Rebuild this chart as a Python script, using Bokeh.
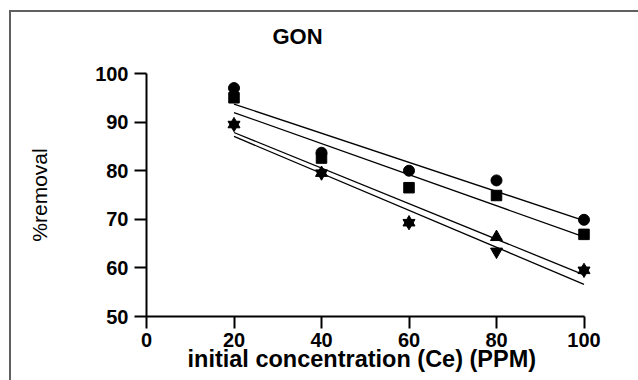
import numpy as np
from bokeh.plotting import figure
from bokeh.models import Title, Range1d
from bokeh.transform import dodge
from bokeh.embed import file_html
from bokeh.resources import INLINE

# ---- data ----
conc = [20, 40, 60, 80, 100]
circle_vals = [97.0, 83.7, 80.0, 78.0, 69.9]
square_vals = [95.0, 82.6, 76.5, 74.9, 66.9]
up_vals = [89.9, 79.9, 69.7, 66.7, 59.9]
down_vals = [89.1, 79.1, 68.9, 63.0, 59.1]
x_ticks = [0, 20, 40, 60, 80, 100]
y_ticks = [50, 60, 70, 80, 90, 100]
title_text = "GON"
x_label = "initial concentration (Ce) (PPM)"
y_label = "%removal"

FONT = "Liberation Sans"
W, H = 638, 380
TRI = 12  # triangle marker size (px)
# Prism-style triangles are centred on their bounding box, Bokeh's on the centroid
tri_shift = (TRI / 2) * np.sqrt(3) / 6 / (243 / 50)

p = figure(width=W, height=H, output_backend="svg", toolbar_location=None,
           x_range=Range1d(0, 104), y_range=Range1d(50, 100),
           min_border_left=146, min_border_right=37,
           min_border_top=73, min_border_bottom=64)
# thin grey page frame (top and left edges), drawn as CSS background
p.styles = {
    "background-image": "linear-gradient(#606060, #606060), linear-gradient(#606060, #606060)",
    "background-size": "100% 2px, 2px 100%",
    "background-position": "10px 10px, 9px 10px",
    "background-repeat": "no-repeat",
}

p.background_fill_color = "white"
p.border_fill_color = None
p.outline_line_color = None
p.xgrid.visible = False
p.ygrid.visible = False

for ax in (p.xaxis[0], p.yaxis[0]):
    ax.axis_line_width = 2
    ax.axis_line_color = "black"
    ax.major_tick_line_width = 2
    ax.major_tick_line_color = "black"
    ax.minor_tick_line_color = None
    ax.major_tick_in = 0
    ax.major_tick_out = 12
    ax.major_label_text_font = FONT
    ax.major_label_text_font_style = "bold"
    ax.major_label_text_font_size = "20px"
    ax.major_label_text_color = "black"
    ax.axis_label_text_font = FONT
    ax.axis_label_text_color = "black"

p.xaxis.ticker = x_ticks
p.yaxis.ticker = y_ticks
p.xaxis.bounds = (0, 100)
p.xaxis.major_label_standoff = 4
p.yaxis.axis_label = y_label
p.yaxis.axis_label_text_font_style = "normal"
p.yaxis.axis_label_text_font_size = "21px"
p.yaxis.major_label_standoff = 6
p.yaxis.axis_label_standoff = 41

p.add_layout(Title(text=title_text, align="left", offset=126,
                   vertical_align="top",
                   text_font=FONT, text_font_size="22px",
                   text_font_style="bold", text_color="black",
                   standoff=45), "above")
p.add_layout(Title(text=x_label, align="left", offset=41,
                   text_font=FONT, text_font_size="23.5px",
                   text_font_style="bold", text_color="black",
                   standoff=-12), "below")

# regression lines
xs = np.array([conc[0], conc[-1]], dtype=float)
for vals in (circle_vals, square_vals, up_vals, down_vals):
    m, b = np.polyfit(conc, vals, 1)
    p.line(xs, m * xs + b, line_color="black", line_width=1.3)

src = dict(x=conc, c=circle_vals, s=square_vals, u=up_vals, d=down_vals)
p.scatter(conc, circle_vals, marker="circle", size=11, color="black")
p.scatter(conc, square_vals, marker="square", size=10.5, color="black")
p.scatter(x="x", y=dodge("u", -tri_shift), source=src, marker="triangle",
          size=TRI, color="black")
p.scatter(x="x", y=dodge("d", tri_shift), source=src, marker="inverted_triangle",
          size=TRI, color="black")

open("out.html", "w").write(file_html(p, INLINE))
